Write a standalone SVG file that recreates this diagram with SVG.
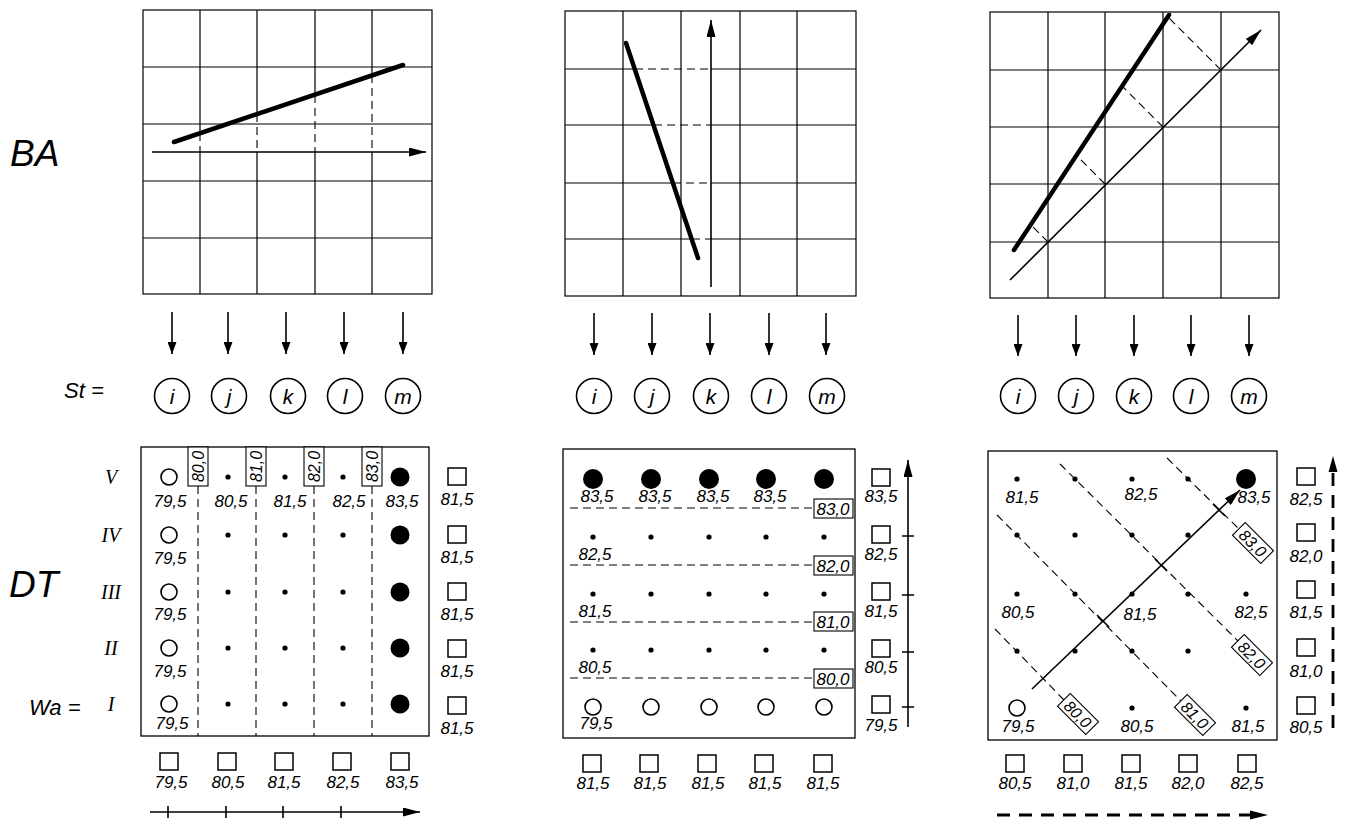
<svg xmlns="http://www.w3.org/2000/svg" width="1351" height="823" viewBox="0 0 1351 823">
<defs>
<style>
.g{stroke:#000;stroke-width:1.2;fill:none}
.gd{stroke:#000;stroke-width:1.1;fill:none;stroke-dasharray:8 5}
.thick{stroke:#000;stroke-width:4.5;stroke-linecap:round;fill:none}
.ar{stroke:#000;stroke-width:1.6;fill:none}
.bd{stroke:#000;stroke-width:2.8;fill:none;stroke-dasharray:13 9}
.fr{stroke:#000;stroke-width:1.3;fill:none}
.sq{stroke:#000;stroke-width:1.5;fill:#fff}
.oc{stroke:#000;stroke-width:1.6;fill:#fff}
.bx{stroke:#000;stroke-width:1.1;fill:#fff}
.t{font-family:"Liberation Sans",Arial,sans-serif;font-style:italic;font-size:17px;text-anchor:middle;fill:#000}
.bt{font-family:"Liberation Sans",Arial,sans-serif;font-style:italic;font-size:16px;text-anchor:middle;fill:#000}
.big{font-family:"Liberation Sans",Arial,sans-serif;font-style:italic;font-size:37px;fill:#000}
.mid{font-family:"Liberation Sans",Arial,sans-serif;font-style:italic;font-size:22px;fill:#000}
.lt{font-family:"Liberation Sans",Arial,sans-serif;font-style:italic;font-size:21px;text-anchor:middle;fill:#000}
.rn{font-family:"Liberation Serif","Times New Roman",serif;font-style:italic;font-size:20px;text-anchor:middle;fill:#000}
</style>
<marker id="ah" markerUnits="userSpaceOnUse" markerWidth="17" markerHeight="9" refX="17" refY="4.5" orient="auto"><path d="M0,0 L17,4.5 L0,9 z" fill="#000"/></marker>
<marker id="ahs" markerUnits="userSpaceOnUse" markerWidth="12" markerHeight="9" refX="12" refY="4.5" orient="auto"><path d="M0,0 L12,4.5 L0,9 z" fill="#000"/></marker>
</defs>
<rect width="1351" height="823" fill="#fff"/>

<g id="labels">
<text class="big" x="10" y="166">BA</text>
<text class="big" x="9" y="597">DT</text>
<text class="mid" x="64" y="398">St =</text>
<text class="mid" x="29" y="715">Wa =</text>
<text class="rn" x="111" y="484">V</text>
<text class="rn" x="111" y="542">IV</text>
<text class="rn" x="111" y="599">III</text>
<text class="rn" x="111" y="655">II</text>
<text class="rn" x="111" y="711">I</text>
</g>

<!-- Top panel 1 -->
<g id="ba1">
<rect class="g" x="143" y="10" width="289" height="284"/>
<path class="g" d="M143,67H432M143,124H432M143,181H432M143,238H432"/>
<path class="g" d="M200,10V133M200,152V294M257,10V114M257,152V294M315,10V95M315,152V294M372,10V75M372,152V294"/>
<path class="gd" d="M200,133V152M257,114V152M315,95V152M372,75V152"/>
<line class="thick" x1="174" y1="142" x2="403" y2="65"/>
<line class="ar" x1="152" y1="152" x2="426" y2="152" marker-end="url(#ah)"/>
</g>

<!-- Top panel 2 -->
<g id="ba2">
<rect class="g" x="565" y="11" width="291" height="285"/>
<path class="g" d="M623,11V296M681,11V296M740,11V296M797,11V296"/>
<path class="g" d="M565,69H635M711,69H856M565,125H654M711,125H856M565,183H673M711,183H856M565,239H692M711,239H856"/>
<path class="gd" d="M635,69H711M654,125H711M673,183H711M692,239H711"/>
<line class="thick" x1="626" y1="43" x2="698" y2="258"/>
<line class="ar" x1="711" y1="287" x2="711" y2="20" marker-end="url(#ah)"/>
</g>

<!-- Top panel 3 -->
<g id="ba3">
<rect class="g" x="990" y="12" width="289" height="286"/>
<path class="g" d="M1048,12V298M1105,12V298M1163,12V298M1221,12V298M990,70H1279M990,127H1279M990,184H1279M990,242H1279"/>
<path class="gd" d="M1048,242L1031,225M1105,184L1076,155M1163,127L1122,86M1221,70L1168,17"/>
<line class="thick" x1="1014" y1="250" x2="1169" y2="15"/>
<line class="ar" x1="1010" y1="280" x2="1261" y2="30" marker-end="url(#ah)"/>
</g>

<!-- Connectors: down arrows -->
<g id="connectors">
<line class="ar" x1="172" y1="312" x2="172" y2="354" marker-end="url(#ahs)"/>
<line class="ar" x1="228" y1="312" x2="228" y2="354" marker-end="url(#ahs)"/>
<line class="ar" x1="286" y1="312" x2="286" y2="354" marker-end="url(#ahs)"/>
<line class="ar" x1="344" y1="312" x2="344" y2="354" marker-end="url(#ahs)"/>
<line class="ar" x1="403" y1="312" x2="403" y2="354" marker-end="url(#ahs)"/>
<line class="ar" x1="594" y1="313" x2="594" y2="355" marker-end="url(#ahs)"/>
<line class="ar" x1="652" y1="313" x2="652" y2="355" marker-end="url(#ahs)"/>
<line class="ar" x1="710" y1="313" x2="710" y2="355" marker-end="url(#ahs)"/>
<line class="ar" x1="769" y1="313" x2="769" y2="355" marker-end="url(#ahs)"/>
<line class="ar" x1="826" y1="313" x2="826" y2="355" marker-end="url(#ahs)"/>
<line class="ar" x1="1018" y1="315" x2="1018" y2="356" marker-end="url(#ahs)"/>
<line class="ar" x1="1076" y1="315" x2="1076" y2="356" marker-end="url(#ahs)"/>
<line class="ar" x1="1134" y1="315" x2="1134" y2="356" marker-end="url(#ahs)"/>
<line class="ar" x1="1191" y1="315" x2="1191" y2="356" marker-end="url(#ahs)"/>
<line class="ar" x1="1249" y1="315" x2="1249" y2="356" marker-end="url(#ahs)"/>
</g>

<!-- St circles -->
<g id="st1">
<circle class="oc" cx="172" cy="396" r="17.5"/><text class="lt" x="172" y="404">i</text>
<circle class="oc" cx="229" cy="396" r="17.5"/><text class="lt" x="229" y="404">j</text>
<circle class="oc" cx="288" cy="396" r="17.5"/><text class="lt" x="288" y="404">k</text>
<circle class="oc" cx="345" cy="396" r="17.5"/><text class="lt" x="345" y="404">l</text>
<circle class="oc" cx="403" cy="396" r="17.5"/><text class="lt" x="403" y="404">m</text>
</g>
<g id="st2">
<circle class="oc" cx="594" cy="396" r="17.5"/><text class="lt" x="594" y="404">i</text>
<circle class="oc" cx="652" cy="396" r="17.5"/><text class="lt" x="652" y="404">j</text>
<circle class="oc" cx="711" cy="396" r="17.5"/><text class="lt" x="711" y="404">k</text>
<circle class="oc" cx="769" cy="396" r="17.5"/><text class="lt" x="769" y="404">l</text>
<circle class="oc" cx="827" cy="396" r="17.5"/><text class="lt" x="827" y="404">m</text>
</g>
<g id="st3">
<circle class="oc" cx="1018" cy="396" r="17.5"/><text class="lt" x="1018" y="404">i</text>
<circle class="oc" cx="1076" cy="396" r="17.5"/><text class="lt" x="1076" y="404">j</text>
<circle class="oc" cx="1134" cy="396" r="17.5"/><text class="lt" x="1134" y="404">k</text>
<circle class="oc" cx="1191" cy="396" r="17.5"/><text class="lt" x="1191" y="404">l</text>
<circle class="oc" cx="1249" cy="396" r="17.5"/><text class="lt" x="1249" y="404">m</text>
</g>

<!-- Bottom panel 1 -->
<g id="dt1">
<rect class="fr" x="141" y="447" width="288" height="289"/>
<path class="gd" d="M198,486V736M256,486V736M314,486V736M372,486V736"/>
<rect class="bx" x="188" y="447" width="20" height="39"/><text class="bt" transform="translate(204,466.5) rotate(-90)">80,0</text>
<rect class="bx" x="246" y="447" width="20" height="39"/><text class="bt" transform="translate(262,466.5) rotate(-90)">81,0</text>
<rect class="bx" x="304" y="447" width="20" height="39"/><text class="bt" transform="translate(320,466.5) rotate(-90)">82,0</text>
<rect class="bx" x="362" y="447" width="20" height="39"/><text class="bt" transform="translate(378,466.5) rotate(-90)">83,0</text>
<g fill="#000">
<circle cx="228" cy="477" r="2.6"/><circle cx="285" cy="477" r="2.6"/><circle cx="343" cy="477" r="2.6"/>
<circle cx="228" cy="535" r="2.6"/><circle cx="285" cy="535" r="2.6"/><circle cx="343" cy="535" r="2.6"/>
<circle cx="228" cy="592" r="2.6"/><circle cx="285" cy="592" r="2.6"/><circle cx="343" cy="592" r="2.6"/>
<circle cx="228" cy="648" r="2.6"/><circle cx="285" cy="648" r="2.6"/><circle cx="343" cy="648" r="2.6"/>
<circle cx="228" cy="704" r="2.6"/><circle cx="285" cy="704" r="2.6"/><circle cx="343" cy="704" r="2.6"/>
<circle cx="400" cy="477" r="9.5"/><circle cx="400" cy="535" r="9.5"/><circle cx="400" cy="592" r="9.5"/><circle cx="400" cy="648" r="9.5"/><circle cx="400" cy="704" r="9.5"/>
</g>
<circle class="oc" cx="169" cy="477" r="8"/><circle class="oc" cx="169" cy="535" r="8"/><circle class="oc" cx="169" cy="592" r="8"/><circle class="oc" cx="169" cy="648" r="8"/><circle class="oc" cx="169" cy="704" r="8"/>
<text class="t" x="170" y="507">79,5</text><text class="t" x="231" y="507">80,5</text><text class="t" x="290" y="507">81,5</text><text class="t" x="349" y="507">82,5</text><text class="t" x="402" y="507">83,5</text>
<text class="t" x="170" y="564">79,5</text><text class="t" x="170" y="620">79,5</text><text class="t" x="170" y="677">79,5</text><text class="t" x="172" y="729">79,5</text>
</g>
<g id="dt1-right">
<rect class="sq" x="448" y="468" width="18" height="17"/><text class="t" x="457" y="505">81,5</text>
<rect class="sq" x="448" y="526" width="18" height="17"/><text class="t" x="457" y="563">81,5</text>
<rect class="sq" x="448" y="583" width="18" height="17"/><text class="t" x="457" y="620">81,5</text>
<rect class="sq" x="448" y="640" width="18" height="17"/><text class="t" x="457" y="677">81,5</text>
<rect class="sq" x="448" y="697" width="18" height="17"/><text class="t" x="457" y="734">81,5</text>
</g>
<g id="dt1-bottom">
<rect class="sq" x="160" y="753" width="18" height="17"/><text class="t" x="171" y="788">79,5</text>
<rect class="sq" x="218" y="753" width="18" height="17"/><text class="t" x="228" y="788">80,5</text>
<rect class="sq" x="275" y="753" width="18" height="17"/><text class="t" x="284" y="788">81,5</text>
<rect class="sq" x="333" y="753" width="18" height="17"/><text class="t" x="343" y="788">82,5</text>
<rect class="sq" x="391" y="753" width="18" height="17"/><text class="t" x="402" y="788">83,5</text>
<line class="ar" x1="150" y1="812" x2="420" y2="812" stroke-width="2" marker-end="url(#ah)"/>
<path class="ar" d="M168,806V818M226,806V818M283,806V818M341,806V818"/>
</g>

<!-- Bottom panel 2 -->
<g id="dt2">
<rect class="fr" x="563" y="449" width="292" height="289"/>
<path class="gd" d="M570,508H814M570,565H814M570,622H814M570,678H814"/>
<rect class="bx" x="814" y="499" width="39" height="19"/><text class="t" x="833" y="515">83,0</text>
<rect class="bx" x="814" y="556" width="39" height="19"/><text class="t" x="833" y="572">82,0</text>
<rect class="bx" x="814" y="612" width="39" height="19"/><text class="t" x="833" y="628">81,0</text>
<rect class="bx" x="814" y="669" width="39" height="19"/><text class="t" x="833" y="685">80,0</text>
<g fill="#000">
<circle cx="593" cy="479" r="10"/><circle cx="651" cy="479" r="10"/><circle cx="709" cy="479" r="10"/><circle cx="766" cy="479" r="10"/><circle cx="824" cy="479" r="10"/>
<circle cx="593" cy="537" r="2.6"/><circle cx="651" cy="537" r="2.6"/><circle cx="709" cy="537" r="2.6"/><circle cx="766" cy="537" r="2.6"/><circle cx="824" cy="537" r="2.6"/>
<circle cx="593" cy="594" r="2.6"/><circle cx="651" cy="594" r="2.6"/><circle cx="709" cy="594" r="2.6"/><circle cx="766" cy="594" r="2.6"/><circle cx="824" cy="594" r="2.6"/>
<circle cx="593" cy="650" r="2.6"/><circle cx="651" cy="650" r="2.6"/><circle cx="709" cy="650" r="2.6"/><circle cx="766" cy="650" r="2.6"/><circle cx="824" cy="650" r="2.6"/>
</g>
<circle class="oc" cx="593" cy="707" r="8"/><circle class="oc" cx="651" cy="707" r="8"/><circle class="oc" cx="709" cy="707" r="8"/><circle class="oc" cx="766" cy="707" r="8"/><circle class="oc" cx="824" cy="707" r="8"/>
<text class="t" x="597" y="502">83,5</text><text class="t" x="655" y="502">83,5</text><text class="t" x="713" y="502">83,5</text><text class="t" x="770" y="502">83,5</text>
<text class="t" x="595" y="560">82,5</text><text class="t" x="595" y="617">81,5</text><text class="t" x="595" y="673">80,5</text><text class="t" x="596" y="729">79,5</text>
</g>
<g id="dt2-right">
<rect class="sq" x="872" y="469" width="18" height="17"/><text class="t" x="881" y="502">83,5</text>
<rect class="sq" x="872" y="526" width="18" height="17"/><text class="t" x="881" y="560">82,5</text>
<rect class="sq" x="872" y="583" width="18" height="17"/><text class="t" x="881" y="617">81,5</text>
<rect class="sq" x="872" y="640" width="18" height="17"/><text class="t" x="881" y="673">80,5</text>
<rect class="sq" x="872" y="696" width="18" height="17"/><text class="t" x="881" y="731">79,5</text>
<line class="ar" x1="908" y1="727" x2="908" y2="460" stroke-width="2" marker-end="url(#ah)"/>
<path class="ar" d="M902,536H914M902,595H914M902,652H914M902,707H914"/>
</g>
<g id="dt2-bottom">
<rect class="sq" x="583" y="755" width="18" height="17"/><text class="t" x="593" y="789">81,5</text>
<rect class="sq" x="640" y="755" width="18" height="17"/><text class="t" x="650" y="789">81,5</text>
<rect class="sq" x="698" y="755" width="18" height="17"/><text class="t" x="708" y="789">81,5</text>
<rect class="sq" x="755" y="755" width="18" height="17"/><text class="t" x="765" y="789">81,5</text>
<rect class="sq" x="814" y="755" width="18" height="17"/><text class="t" x="823" y="789">81,5</text>
</g>

<!-- Bottom panel 3 -->
<g id="dt3">
<rect class="fr" x="988" y="451" width="289" height="289"/>
<path class="gd" d="M995,629L1064,700M997,515L1181,701M1060,464L1238,641M1167,458L1239,529"/>
<line class="ar" x1="1032" y1="689" x2="1240" y2="490" marker-end="url(#ah)"/>
<path class="ar" d="M1097,615L1109,627M1155,559L1167,571M1213,504L1225,516"/>
<g class="bx">
<rect x="-20" y="-9" width="40" height="18" transform="translate(1078,714) rotate(45)"/>
<rect x="-20" y="-9" width="40" height="18" transform="translate(1195,715) rotate(45)"/>
<rect x="-20" y="-9" width="40" height="18" transform="translate(1252,655) rotate(45)"/>
<rect x="-20" y="-9" width="40" height="18" transform="translate(1253,543) rotate(45)"/>
</g>
<text class="bt" transform="translate(1078,714) rotate(45)" y="6">80,0</text>
<text class="bt" transform="translate(1195,715) rotate(45)" y="6">81,0</text>
<text class="bt" transform="translate(1252,655) rotate(45)" y="6">82,0</text>
<text class="bt" transform="translate(1253,543) rotate(45)" y="6">83,0</text>
<g fill="#000">
<circle cx="1017" cy="479" r="2.6"/><circle cx="1075" cy="479" r="2.6"/><circle cx="1132" cy="479" r="2.6"/><circle cx="1188" cy="479" r="2.6"/>
<circle cx="1246" cy="479" r="10"/>
<circle cx="1017" cy="535" r="2.6"/><circle cx="1075" cy="535" r="2.6"/><circle cx="1132" cy="535" r="2.6"/><circle cx="1188" cy="535" r="2.6"/>
<circle cx="1017" cy="594" r="2.6"/><circle cx="1075" cy="594" r="2.6"/><circle cx="1132" cy="594" r="2.6"/><circle cx="1188" cy="594" r="2.6"/><circle cx="1246" cy="594" r="2.6"/>
<circle cx="1017" cy="651" r="2.6"/><circle cx="1075" cy="651" r="2.6"/><circle cx="1132" cy="651" r="2.6"/><circle cx="1188" cy="651" r="2.6"/>
<circle cx="1132" cy="708" r="2.6"/><circle cx="1246" cy="708" r="2.6"/>
</g>
<circle class="oc" cx="1017" cy="708" r="8"/>
<text class="t" x="1022" y="503">81,5</text><text class="t" x="1141" y="500">82,5</text><text class="t" x="1254" y="503">83,5</text>
<text class="t" x="1018" y="618">80,5</text><text class="t" x="1140" y="620">81,5</text><text class="t" x="1251" y="618">82,5</text>
<text class="t" x="1018" y="732">79,5</text><text class="t" x="1137" y="732">80,5</text><text class="t" x="1248" y="732">81,5</text>
</g>
<g id="dt3-right">
<rect class="sq" x="1297" y="468" width="18" height="17"/><text class="t" x="1306" y="505">82,5</text>
<rect class="sq" x="1297" y="524" width="18" height="17"/><text class="t" x="1306" y="562">82,0</text>
<rect class="sq" x="1297" y="581" width="18" height="17"/><text class="t" x="1306" y="618">81,5</text>
<rect class="sq" x="1297" y="639" width="18" height="17"/><text class="t" x="1306" y="677">81,0</text>
<rect class="sq" x="1297" y="697" width="18" height="17"/><text class="t" x="1306" y="733">80,5</text>
<line class="bd" x1="1333" y1="728" x2="1333" y2="470"/>
<path d="M1328.5,472 L1333,456 L1337.5,472 z" fill="#000"/>
</g>
<g id="dt3-bottom">
<rect class="sq" x="1006" y="755" width="18" height="17"/><text class="t" x="1015" y="789">80,5</text>
<rect class="sq" x="1064" y="755" width="18" height="17"/><text class="t" x="1073" y="789">81,0</text>
<rect class="sq" x="1122" y="755" width="18" height="17"/><text class="t" x="1131" y="789">81,5</text>
<rect class="sq" x="1179" y="755" width="18" height="17"/><text class="t" x="1188" y="789">82,0</text>
<rect class="sq" x="1238" y="755" width="18" height="17"/><text class="t" x="1247" y="789">82,5</text>
<line class="bd" x1="997" y1="815" x2="1252" y2="815"/>
<path d="M1250,810.5 L1268,815 L1250,819.5 z" fill="#000"/>
</g>
</svg>
